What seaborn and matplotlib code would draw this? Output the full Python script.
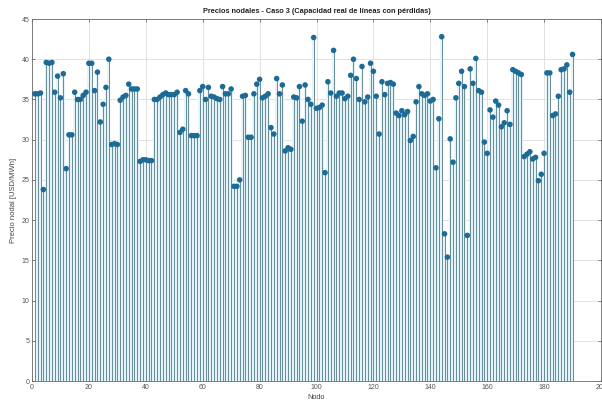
import numpy as np
import pandas as pd
import matplotlib
matplotlib.use("Agg")
import matplotlib.pyplot as plt
import seaborn as sns

title = "Precios nodales - Caso 3 (Capacidad real de líneas con pérdidas)"
xlabel = "Nodo"
ylabel = "Precio nodal [USD/MWh]"
xticks = [0, 20, 40, 60, 80, 100, 120, 140, 160, 180, 200]
yticks = [0, 5, 10, 15, 20, 25, 30, 35, 40, 45]

prices = [
    35.7, 35.7, 35.8, 23.8, 39.6, 39.5, 39.6, 35.9, 37.9, 35.2,
    38.2, 26.4, 30.6, 30.6, 35.9, 35.0, 35.0, 35.5, 35.9, 39.5,
    39.5, 36.1, 38.4, 32.2, 34.4, 36.5, 40.0, 29.4, 29.5, 29.4,
    34.9, 35.3, 35.5, 36.9, 36.3, 36.3, 36.3, 27.3, 27.5, 27.5,
    27.4, 27.4, 35.0, 35.0, 35.3, 35.6, 35.8, 35.6, 35.6, 35.6,
    35.9, 30.9, 31.3, 36.1, 35.7, 30.5, 30.5, 30.5, 36.1, 36.6,
    35.0, 36.5, 35.4, 35.3, 35.1, 35.0, 36.6, 35.7, 35.7, 36.3,
    24.2, 24.2, 25.0, 35.4, 35.5, 30.3, 30.3, 35.7, 36.9, 37.5,
    35.2, 35.4, 35.7, 31.5, 30.7, 37.6, 35.7, 36.8, 28.6, 29.0,
    28.8, 35.3, 35.2, 36.6, 32.3, 36.8, 35.0, 34.4, 42.7, 33.9,
    34.0, 34.3, 25.9, 37.2, 35.8, 41.1, 35.4, 35.8, 35.8, 35.1,
    35.4, 38.0, 40.0, 37.6, 35.0, 39.1, 34.7, 35.3, 39.5, 38.5,
    35.4, 30.7, 37.2, 35.6, 37.0, 37.1, 36.9, 33.3, 33.0, 33.6,
    33.1, 33.5, 29.9, 30.4, 34.7, 36.6, 35.7, 35.5, 35.7, 34.8,
    35.0, 26.5, 32.6, 42.8, 18.3, 15.4, 30.1, 27.2, 35.2, 37.0,
    38.5, 36.6, 18.1, 38.8, 37.0, 40.1, 36.1, 35.9, 29.7, 28.3,
    33.7, 32.8, 34.8, 34.3, 31.6, 32.1, 33.6, 31.9, 38.7, 38.5,
    38.3, 38.1, 27.9, 28.2, 28.5, 27.6, 27.8, 24.9, 25.7, 28.3,
    38.3, 38.3, 33.0, 33.2, 35.4, 38.7, 38.8, 39.3, 35.9, 40.6,
]
nodes = list(range(1, len(prices) + 1))
df = pd.DataFrame({"Nodo": nodes, "Precio": prices})

sns.set_theme(style="whitegrid")
plt.rcParams["font.family"] = ["Liberation Sans", "DejaVu Sans"]

fig = plt.figure(figsize=(6.02, 4.03), dpi=100)
ax = fig.add_axes([32 / 602, 22 / 403, 569 / 602, 362 / 403])

ax.fill_between(df["Nodo"], 0, df["Precio"], step="mid", color="#e6f6f9",
                zorder=1, lw=0)
ax.vlines(df["Nodo"], 0, df["Precio"], color="#6a8f98", linewidth=0.75, zorder=2)
sns.scatterplot(data=df, x="Nodo", y="Precio", ax=ax, color="#1c6b97",
                s=16, edgecolor="none", zorder=3, legend=False)

ax.set_xlim(0, 200)
ax.set_ylim(0, 45)
ax.set_xticks(xticks)
ax.set_yticks(yticks)
ax.grid(True, color="#dcdcdc", linewidth=0.6, zorder=0)
ax.set_axisbelow(True)
ax.set_facecolor("white")
for s in ax.spines.values():
    s.set_color("#6a6a6a")
    s.set_linewidth(0.6)
ax.tick_params(axis="both", labelsize=5, colors="#555555", length=2, width=0.5,
               direction="in", pad=2, top=True, right=True, bottom=True, left=True)
ax.set_title(title, fontsize=5.3, fontweight="bold", color="#222222", pad=4)
ax.set_xlabel(xlabel, fontsize=5.3, color="#444444", labelpad=2)
ax.set_ylabel(ylabel, fontsize=5.5, color="#444444", labelpad=3)

fig.savefig("out.png", dpi=100)
